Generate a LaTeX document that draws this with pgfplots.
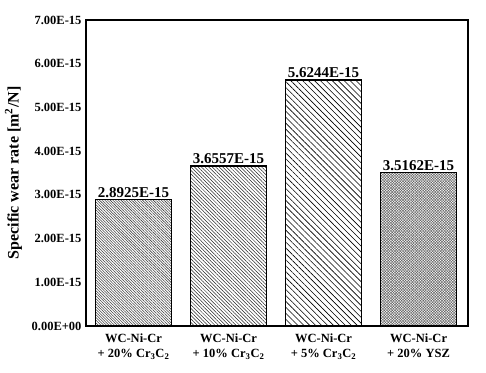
\documentclass[border=0pt]{standalone}
\usepackage{pgfplots}
\pgfplotsset{compat=1.18}
\usepackage{fontspec}
\setmainfont{Liberation Serif}
\usetikzlibrary{patterns.meta}
\begin{document}
\begin{tikzpicture}[x=1pt,y=1pt]
\path[use as bounding box] (0,0) rectangle (486,372);
\begin{axis}[
  at={(86pt,46pt)}, anchor=south west,
  scale only axis, width=382pt, height=306pt,
  xmin=-0.5, xmax=3.52, ymin=0, ymax=7,
  axis line style={line width=1.6pt},
  major tick length=0pt,
  ytick={0,1,2,3,4,5,6,7},
  yticklabels={0.00E+00,1.00E-15,2.00E-15,3.00E-15,4.00E-15,5.00E-15,6.00E-15,7.00E-15},
  yticklabel style={font=\bfseries\fontsize{12.5}{13}\selectfont, xshift=-1pt},
  xtick={0,1,2,3},
  xticklabels={WC-Ni-Cr\\+ 20\% Cr\textsubscript{3}C\textsubscript{2},
               WC-Ni-Cr\\+ 10\% Cr\textsubscript{3}C\textsubscript{2},
               WC-Ni-Cr\\+ 5\% Cr\textsubscript{3}C\textsubscript{2},
               WC-Ni-Cr\\+ 20\% YSZ},
  xticklabel style={font=\bfseries\fontsize{12.5}{15}\selectfont, align=center, yshift=-4pt},
  ylabel={Specific wear rate [m\textsuperscript{2}/N]},
  every axis y label/.style={at={(axis description cs:-0.19,0.5)}, rotate=90, anchor=center,
     font=\bfseries\fontsize{16}{18}\selectfont},
  ybar, bar width=76pt, bar shift=0pt,
  point meta=explicit symbolic,
  nodes near coords,
  every node near coord/.append style={font=\bfseries\fontsize{15}{16}\selectfont, yshift=-2pt},
  clip=false,
]
\addplot[draw=black, line width=1.4pt, pattern={Lines[angle=-45,distance=1.9pt,line width=0.55pt]}, pattern color=black!75]
  coordinates {(0,2.8925) [2.8925E-15]};
\addplot[draw=black, line width=1.4pt, pattern={Lines[angle=-45,distance=2.5pt,line width=0.5pt]}, pattern color=black!85]
  coordinates {(1,3.6557) [3.6557E-15]};
\addplot[draw=black, line width=1.4pt, pattern={Lines[angle=-45,distance=4.2pt,line width=0.6pt]}, pattern color=black]
  coordinates {(2,5.6244) [5.6244E-15]};
\addplot[draw=black, line width=1.4pt, pattern={Hatch[angle=45,distance=1.9pt,line width=0.5pt]}, pattern color=black!60]
  coordinates {(3,3.5162) [3.5162E-15]};
\end{axis}
\end{tikzpicture}
\end{document}
